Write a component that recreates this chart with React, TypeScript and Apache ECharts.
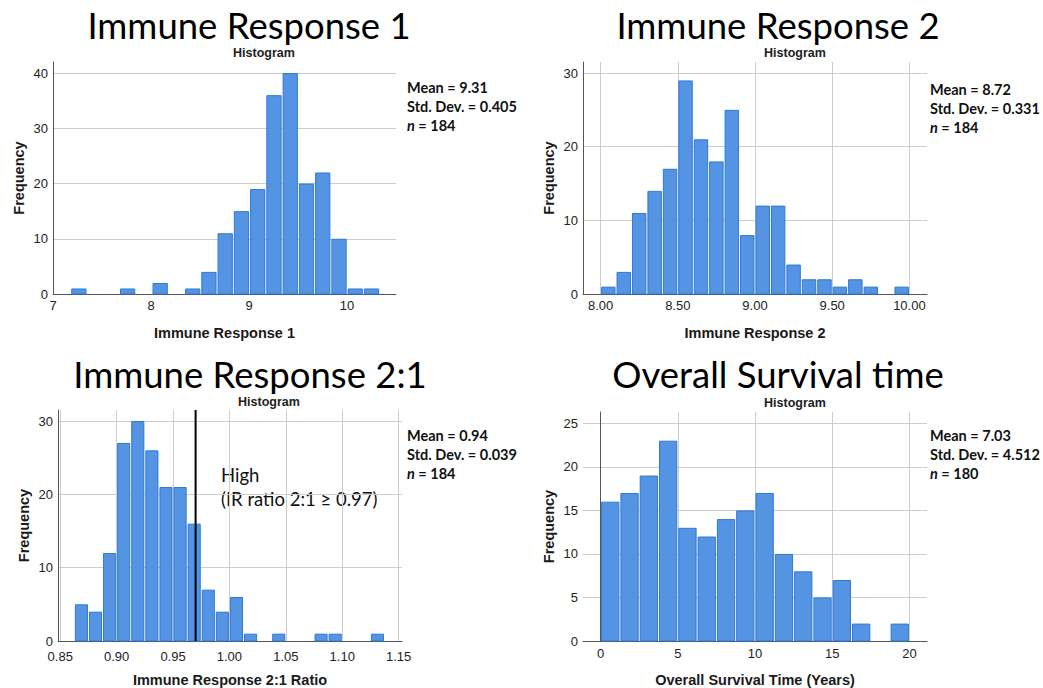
import React, { useEffect, useRef } from "react";
import * as echarts from "echarts";

// ---- data ----
const ir1BinStart = 7.181;
const ir1BinWidth = 0.1659;
const ir1Counts = [1, 0, 0, 1, 0, 2, 0, 1, 4, 11, 15, 19, 36, 40, 20, 22, 10, 1, 1];
const ir1XTicks = [7, 8, 9, 10];
const ir1YTicks = [0, 10, 20, 30, 40];

const ir2BinStart = 8.0;
const ir2BinWidth = 0.1;
const ir2Counts = [1, 3, 11, 14, 17, 29, 21, 18, 25, 8, 12, 12, 4, 2, 2, 1, 2, 1, 0, 1];
const ir2XTicks = [8, 8.5, 9, 9.5, 10];
const ir2YTicks = [0, 10, 20, 30];

const ratioBinStart = 0.8625;
const ratioBinWidth = 0.0125;
const ratioCounts = [5, 4, 12, 27, 30, 26, 21, 21, 16, 7, 4, 6, 1, 0, 1, 0, 0, 1, 1, 0, 0, 1];
const ratioXTicks = [0.85, 0.9, 0.95, 1.0, 1.05, 1.1, 1.15];
const ratioYTicks = [0, 10, 20, 30];
const ratioCutoff = 0.97;

const osBinStart = 0;
const osBinWidth = 1.25;
const osCounts = [16, 17, 19, 23, 13, 12, 14, 15, 17, 10, 8, 5, 7, 2, 0, 2];
const osXTicks = [0, 5, 10, 15, 20];
const osYTicks = [0, 5, 10, 15, 20, 25];

const panelTitles = ["Immune Response 1", "Immune Response 2", "Immune Response 2:1", "Overall Survival time"];
const axisNames = ["Immune Response 1", "Immune Response 2", "Immune Response 2:1 Ratio", "Overall Survival Time (Years)"];
const statMeans = ["9.31", "8.72", "0.94", "7.03"];
const statSDs = ["0.405", "0.331", "0.039", "4.512"];
const statNs = ["184", "184", "184", "180"];

const SPSS_FONT = "'Liberation Sans', Arial, sans-serif";
const CAL_FONT = "Lato, 'Open Sans', sans-serif";
const BAR_FILL = "#5593e3";
const BAR_STROKE = "#2c7ad6";
const GRID_COLOR = "#cdcdcd";
const AXIS_COLOR = "#555555";

const grids = [
  { left: 53, top: 62, width: 343, height: 232 },
  { left: 583, top: 62, width: 344, height: 232 },
  { left: 58, top: 410, width: 344, height: 232 },
  { left: 583, top: 412, width: 344, height: 231 },
];

function histSeries(idx: number, start: number, width: number, counts: number[]) {
  return {
    type: "custom",
    xAxisIndex: idx,
    yAxisIndex: idx,
    silent: true,
    data: counts.map((c, i) => [start + i * width, start + (i + 1) * width, c]),
    encode: { x: [0, 1], y: 2 },
    renderItem: (_params: any, api: any) => {
      const c = api.value(2);
      if (!c) return null;
      const a = api.coord([api.value(0), c]);
      const b = api.coord([api.value(1), 0]);
      return {
        type: "rect",
        shape: { x: a[0] + 1, y: a[1] + 0.5, width: b[0] - a[0] - 2, height: b[1] - a[1] - 0.5 },
        style: { fill: BAR_FILL, stroke: BAR_STROKE, lineWidth: 1 },
      };
    },
  };
}

function xAxis(idx: number, min: number, max: number, ticks: number[], decimals: number, showGrid: boolean, labelMargin: number) {
  return {
    type: "value",
    gridIndex: idx,
    min,
    max,
    name: axisNames[idx],
    nameLocation: "middle",
    nameGap: 31,
    nameTextStyle: { fontFamily: SPSS_FONT, fontWeight: "bold", fontSize: 14.5, color: "#1a1a1a" },
    axisLine: { show: true, lineStyle: { color: AXIS_COLOR, width: 1 } },
    axisTick: { show: false, customValues: ticks },
    axisLabel: {
      customValues: ticks,
      formatter: (v: number) => v.toFixed(decimals),
      fontFamily: SPSS_FONT,
      fontSize: 13,
      color: "#222",
      margin: labelMargin,
    },
    splitLine: { show: showGrid, lineStyle: { color: GRID_COLOR, width: 1 } },
  };
}

function yAxis(idx: number, max: number, ticks: number[]) {
  return {
    type: "value",
    gridIndex: idx,
    min: 0,
    max,
    name: "Frequency",
    nameLocation: "middle",
    nameGap: 27,
    nameTextStyle: { fontFamily: SPSS_FONT, fontWeight: "bold", fontSize: 14.5, color: "#1a1a1a" },
    axisLine: { show: true, lineStyle: { color: AXIS_COLOR, width: 1 } },
    axisTick: { show: false, customValues: ticks },
    axisLabel: {
      customValues: ticks,
      fontFamily: SPSS_FONT,
      fontSize: 13,
      color: "#222",
      margin: 5,
    },
    splitLine: { show: true, lineStyle: { color: GRID_COLOR, width: 1 } },
  };
}

const titlePos = [
  [249, 25],
  [778, 25],
  [250, 374],
  [778, 374],
];
const histPos = [
  [264, 53],
  [795, 53],
  [269, 402],
  [795, 403],
];
const statPos = [
  [407, 89],
  [930, 91],
  [407, 437],
  [930, 437],
];

function statText(i: number, x: number, y: number) {
  const common = { fontFamily: CAL_FONT, fontWeight: "bold", fontSize: 14.5, fill: "#111" };
  return [
    { type: "text", left: x, top: y - 9, style: { ...common, text: `Mean = ${statMeans[i]}` } },
    { type: "text", left: x, top: y + 10, style: { ...common, text: `Std. Dev. = ${statSDs[i]}` } },
    {
      type: "text",
      left: x,
      top: y + 29,
      style: {
        ...common,
        text: `{i|n} = ${statNs[i]}`,
        rich: { i: { fontFamily: CAL_FONT, fontWeight: "bold", fontStyle: "italic", fontSize: 14.5, fill: "#111" } },
      },
    },
  ];
}

export default function App() {
  const ref = useRef<HTMLDivElement>(null);
  useEffect(() => {
    if (!ref.current) return;
    const chart = echarts.init(ref.current, undefined, { renderer: "svg" });
    const graphics: any[] = [];
    panelTitles.forEach((t, i) => {
      graphics.push({
        type: "text",
        x: titlePos[i][0],
        y: titlePos[i][1],
        style: { text: t, fontFamily: CAL_FONT, fontSize: 36.5, fill: "#000", align: "center", verticalAlign: "middle" },
      });
      graphics.push({
        type: "text",
        x: histPos[i][0],
        y: histPos[i][1],
        style: { text: "Histogram", fontFamily: SPSS_FONT, fontWeight: "bold", fontSize: 12.5, fill: "#222", align: "center", verticalAlign: "middle" },
      });
      graphics.push(...statText(i, statPos[i][0], statPos[i][1]));
    });
    graphics.push({
      type: "text",
      x: 221,
      y: 463,
      style: {
        text: "High\n(IR ratio 2:1 \u2265 0.97)",
        fontFamily: CAL_FONT,
        fontSize: 18.5,
        lineHeight: 24,
        fill: "#111",
        align: "left",
        verticalAlign: "top",
      },
    });

    chart.setOption({
      animation: false,
      backgroundColor: "#ffffff",
      grid: grids.map((g) => ({ ...g, containLabel: false })),
      xAxis: [
        xAxis(0, 7, 10.5, ir1XTicks, 0, false, 5),
        xAxis(1, 7.886, 10.114, ir2XTicks, 2, true, 5),
        xAxis(2, 0.848, 1.153, ratioXTicks, 2, true, 9),
        xAxis(3, -1.14, 21.14, osXTicks, 0, true, 6),
      ],
      yAxis: [yAxis(0, 42, ir1YTicks), yAxis(1, 31.5, ir2YTicks), yAxis(2, 31.5, ratioYTicks), yAxis(3, 26.3, osYTicks)],
      series: [
        histSeries(0, ir1BinStart, ir1BinWidth, ir1Counts),
        histSeries(1, ir2BinStart, ir2BinWidth, ir2Counts),
        histSeries(2, ratioBinStart, ratioBinWidth, ratioCounts),
        histSeries(3, osBinStart, osBinWidth, osCounts),
        {
          type: "line",
          xAxisIndex: 2,
          yAxisIndex: 2,
          silent: true,
          symbol: "none",
          data: [
            [ratioCutoff, 0],
            [ratioCutoff, 31.5],
          ],
          lineStyle: { color: "#000", width: 2 },
          z: 5,
        },
      ],
      graphic: graphics,
    });
    return () => chart.dispose();
  }, []);
  return <div ref={ref} style={{ position: "fixed", left: 0, top: 0, width: 1043, height: 688 }} />;
}
